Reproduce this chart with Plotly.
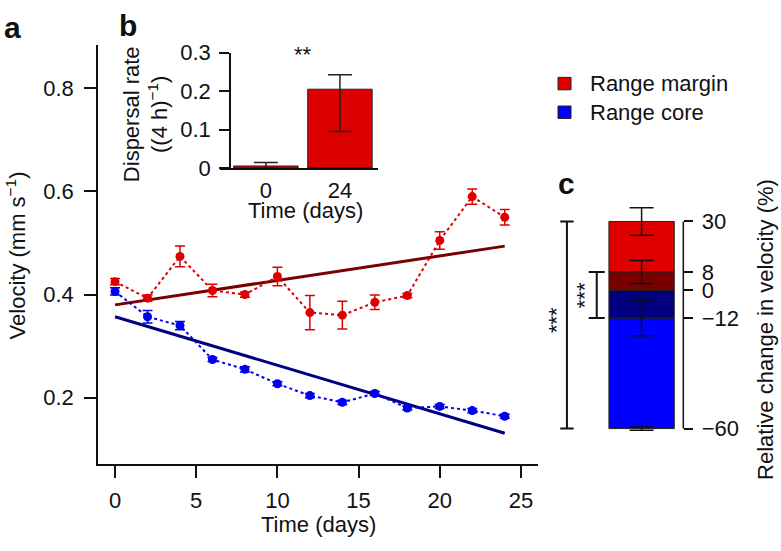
import plotly.graph_objects as go

W, H = 781, 551

# panel a: mean velocity (mm/s) every 2 days
days = [0, 2, 4, 6, 8, 10, 12, 14, 16, 18, 20, 22, 24]
margin_vel = [0.425, 0.393, 0.474, 0.408, 0.400, 0.435, 0.365, 0.360, 0.385, 0.398, 0.505, 0.590, 0.550]
margin_err = [0.006, 0.006, 0.020, 0.012, 0.005, 0.018, 0.033, 0.027, 0.014, 0.004, 0.017, 0.015, 0.015]
core_vel = [0.406, 0.357, 0.340, 0.274, 0.255, 0.227, 0.204, 0.191, 0.208, 0.180, 0.183, 0.175, 0.164]
core_err = [0.007, 0.012, 0.008, 0.004, 0.005, 0.004, 0.004, 0.004, 0.004, 0.004, 0.004, 0.004, 0.004]
fit_days = [0, 24]
margin_fit = [0.380, 0.494]
core_fit = [0.357, 0.131]

# panel b: dispersal rate
b_times = ['0', '24']
b_rate = [0.005, 0.205]
b_err_plus = [0.009, 0.038]
b_err_minus = [0.005, 0.110]

# panel c: relative change in velocity (%)
c_margin_total, c_margin_total_err = 30, 6
c_margin_fit, c_margin_fit_err = 8, 5
c_core_fit, c_core_fit_err = -12, 7.7
c_core_total, c_core_total_err = -60, 0.7
c_ticks = [30, 8, 0, -12, -60]
c_ticktext = ['30', '8', '0', '\u221212', '\u221260']

RED = '#dd0000'
BLUE = '#0000ee'
DARKRED = '#7a0000'
NAVY = '#000080'
C_RED = '#e00000'
C_BLUE = '#0000ff'
FONT = 'Liberation Sans, Arial, sans-serif'
FS = 22


def xp(px):
    return px / W


def yp(py):
    return 1 - py / H


fig = go.Figure()

# ---- panel a
fig.add_trace(go.Scatter(x=fit_days, y=margin_fit, mode='lines',
                         line=dict(color=DARKRED, width=3), xaxis='x', yaxis='y'))
fig.add_trace(go.Scatter(x=fit_days, y=core_fit, mode='lines',
                         line=dict(color=NAVY, width=3), xaxis='x', yaxis='y'))
for vel, err, col in [(margin_vel, margin_err, RED), (core_vel, core_err, BLUE)]:
    fig.add_trace(go.Scatter(
        x=days, y=vel, mode='lines+markers',
        line=dict(color=col, width=2, dash='dot'),
        marker=dict(color=col, size=9),
        error_y=dict(type='data', array=err, color=col, thickness=1.5, width=5),
        xaxis='x', yaxis='y'))

# ---- panel b
fig.add_trace(go.Bar(
    x=b_times, y=b_rate, width=0.87, marker=dict(color=RED, line=dict(color='#222', width=1)),
    error_y=dict(type='data', symmetric=False, array=b_err_plus, arrayminus=b_err_minus,
                 color='#222', thickness=1.5, width=12),
    xaxis='x2', yaxis='y2'))

# ---- panel c (stacked segments drawn from their bases)
c_x = 0.709
c_w = 0.456
segments = [
    (c_core_fit, c_core_total - c_core_fit, c_core_total_err, C_BLUE),
    (c_margin_fit, c_margin_total - c_margin_fit, c_margin_total_err, C_RED),
    (0, c_core_fit, c_core_fit_err, NAVY),
    (0, c_margin_fit, c_margin_fit_err, DARKRED),
]
for base, val, err, col in segments:
    fig.add_trace(go.Bar(
        x=[c_x], y=[val], base=[base], width=c_w,
        marker=dict(color=col, line=dict(color='#222', width=1)),
        error_y=dict(type='data', array=[err], color='#111', thickness=1.5, width=12),
        xaxis='x3', yaxis='y3'))

# significance brackets
for bx, top, bot, hw in [(0.188, c_margin_total, c_core_total, 0.047),
                         (0.396, c_margin_fit, c_core_fit, 0.056)]:
    fig.add_trace(go.Scatter(
        x=[bx - hw, bx + hw, None, bx, bx, None, bx - hw, bx + hw],
        y=[top, top, None, top, bot, None, bot, bot],
        mode='lines', line=dict(color='#111', width=2), xaxis='x3', yaxis='y3'))

axis_common = dict(showgrid=False, zeroline=False, linecolor='#111', linewidth=1.5,
                   tickcolor='#111', tickwidth=1.5, tickfont=dict(family=FONT, size=FS, color='#111'))

fig.update_layout(
    width=W, height=H,
    margin=dict(l=0, r=0, t=0, b=0),
    paper_bgcolor='white', plot_bgcolor='white',
    showlegend=False, barmode='overlay',
    font=dict(family=FONT, size=FS, color='#111'),
    xaxis=dict(domain=[xp(98), xp(538)], range=[-1.05, 26.05], anchor='y',
               showline=True, ticks='outside', ticklen=12, ticklabelstandoff=3,
               tickvals=[0, 5, 10, 15, 20, 25], **axis_common),
    yaxis=dict(domain=[yp(474), yp(35)], range=[0.0704, 0.8833], anchor='x',
               showline=True, ticks='outside', ticklen=12, ticklabelstandoff=6,
               tickvals=[0.2, 0.4, 0.6, 0.8], ticktext=['0.2', '0.4', '0.6', '0.8'], **axis_common),
    xaxis2=dict(domain=[xp(220), xp(377.7)], range=[-0.62, 1.51], anchor='y2',
                type='category', showline=True, ticks='', ticklabelstandoff=2, **axis_common),
    yaxis2=dict(domain=[yp(163.3), yp(42.7)], range=[0, 0.3], anchor='free', position=xp(230),
                showline=True, ticks='outside', ticklen=10, ticklabelstandoff=4,
                tickvals=[0, 0.1, 0.2, 0.3], ticktext=['0', '0.1', '0.2', '0.3'], **axis_common),
    xaxis3=dict(domain=[xp(540), xp(683.3)], range=[0, 1], anchor='y3', visible=False),
    yaxis3=dict(domain=[yp(460), yp(190)], range=[-69.8, 42.2], anchor='free', position=xp(683.3),
                side='right', showline=False, ticks='outside', ticklen=9, ticklabelstandoff=4,
                tickvals=c_ticks, ticktext=c_ticktext, **axis_common),
)

# right-hand axis line of panel c, spanning only the tick range
fig.add_shape(type='line', xref='paper', yref='y3', x0=xp(683.3), x1=xp(683.3),
              y0=c_core_total, y1=c_margin_total, line=dict(color='#111', width=1.5))

# legend swatches
for py, col in [(75, C_RED), (105, C_BLUE)]:
    fig.add_shape(type='rect', xref='paper', yref='paper',
                  x0=xp(558), x1=xp(571), y0=yp(py + 6.5), y1=yp(py - 6.5),
                  fillcolor=col, line=dict(color='#222', width=1))

notes = [
    (12, 16, '<b>a</b>', 30, 0),
    (128, 14, '<b>b</b>', 30, 0),
    (566, 180, '<b>c</b>', 30, 0),
    (318, 537, 'Time (days)', FS, 0),
    (305, 208, 'Time (days)', FS, 0),
    (303, 44, '**', FS, 0),
    (16, 255, 'Velocity (mm s<sup>\u22121</sup>)', FS, -90),
    (146, 107, 'Dispersal rate<br>((4 h)<sup>\u22121</sup>)', FS, -90),
    (766, 333, 'Relative change in velocity (%)', FS, -90),
    (556.7, 323, '***', FS, -90),
    (584, 296.7, '***', FS, -90),
]
for px, py, txt, size, ang in notes:
    fig.add_annotation(x=xp(px), y=yp(py), xref='paper', yref='paper', text=txt,
                       showarrow=False, textangle=ang, xanchor='center', yanchor='middle',
                       font=dict(family=FONT, size=size, color='#111'))

for py, txt in [(75, 'Range margin'), (105, 'Range core')]:
    fig.add_annotation(x=xp(588), y=yp(py), xref='paper', yref='paper', text=txt,
                       showarrow=False, xanchor='left', yanchor='middle',
                       font=dict(family=FONT, size=FS, color='#111'))

# drop the default page margin so the figure sits at the window origin
fig.write_html("out.html", config={'displayModeBar': False},
               post_script="document.body.style.margin = '0';")
